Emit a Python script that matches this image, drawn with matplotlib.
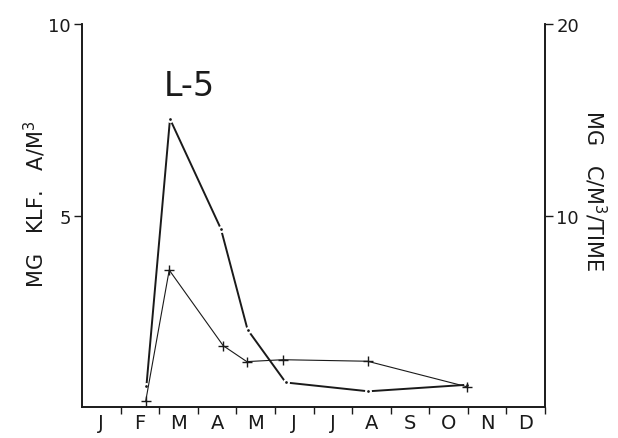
import matplotlib
matplotlib.use('Agg')
import matplotlib.pyplot as plt
import numpy as np

plt.rcParams['font.family'] = ['DejaVu Sans']

# 数据
months = ['J', 'F', 'M', 'A', 'M', 'J', 'J', 'A', 'S', 'O', 'N', 'D']
chl_time = [1.67, 2.28, 3.60, 4.29, 5.28, 7.42, 9.97]
chl_vals = [0.56, 7.52, 4.65, 2.02, 0.64, 0.41, 0.58]
prod_time = [1.65, 2.26, 3.66, 4.27, 5.20, 7.40, 9.97]
prod_vals = [0.30, 7.15, 3.20, 2.37, 2.47, 2.39, 1.06]

fig = plt.figure(figsize=(6.18, 4.39), dpi=100)
ax = fig.add_axes([0.1327, 0.0706, 0.882 - 0.1327, 0.943 - 0.0706])
ax2 = ax.twinx()

ink = '#1a1a1a'

# 叶绿素 (左轴)
ax.plot(chl_time, chl_vals, color=ink, lw=1.4, marker='o', ms=3.5,
        mfc=ink, mec='white', mew=1.5, zorder=3)
# 生产量 (右轴)
ax2.plot(prod_time, prod_vals, color=ink, lw=0.8, marker='+', ms=7,
         mew=1.0, zorder=3)

ax.set_xlim(0, 12)
ax.set_ylim(0, 10)
ax2.set_ylim(0, 20)

for a in (ax, ax2):
    a.spines['top'].set_visible(False)
    for s in a.spines.values():
        s.set_color(ink)
        s.set_linewidth(1.2)

ax.set_yticks([5, 10])
ax.set_yticklabels(['5', '10'], fontsize=13)
ax2.set_yticks([10, 20])
ax2.set_yticklabels(['10', '20'], fontsize=13)
ax.tick_params(axis='y', direction='out', length=6, width=1, pad=2, colors=ink)
ax2.tick_params(axis='y', direction='out', length=6, width=1, pad=2, colors=ink)

# 月份刻度
ax.set_xticks(np.arange(1, 13))
ax.set_xticklabels([])
ax.set_xticks(np.arange(12) + 0.5, minor=True)
ax.set_xticklabels(months, minor=True, fontsize=14)
ax.tick_params(axis='x', which='major', direction='out', length=5, width=1, colors=ink)
ax.tick_params(axis='x', which='minor', length=0, pad=4, colors=ink)

# 轴标题
ax.set_ylabel('MG   KLF.   A/M$^3$', fontsize=15, color=ink, va='center')
ax.yaxis.set_label_coords(-0.1015, 0.533)
ax2.set_ylabel('MG   C/M$^3$/TIME', fontsize=15, color=ink,
               rotation=-90, va='center')
ax2.yaxis.set_label_coords(1.108, 0.567)

ax.text(2.77, 8.4, 'L-5', fontsize=24, ha='center', va='center', color=ink)

fig.savefig('out.png', dpi=100, facecolor='white')
